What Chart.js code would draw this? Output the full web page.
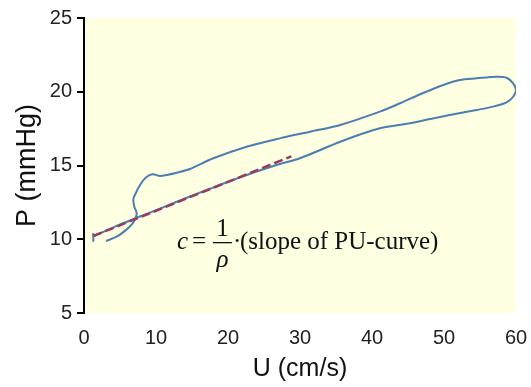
<!DOCTYPE html>
<html><head><meta charset="utf-8">
<script src="https://cdn.jsdelivr.net/npm/chart.js@4/dist/chart.umd.min.js"></script>
<style>html,body{margin:0;padding:0;background:#fff;}canvas{display:block}</style>
</head><body>
<canvas id="c" width="531" height="387"></canvas>
<script>
// Measured P-U loop (U in cm/s, P in mmHg)
const loopU = [3.06,4.54,5.93,6.76,7.08,7.32,6.99,6.85,7.18,7.78,8.47,9.17,9.63,10.56,11.49,12.88,14.72,17.96,22.6,27.2,31.4,35.6,41.1,43.9,46.7,49.9,52.2,54.5,57.3,58.7,59.6,60.0,59.6,58.7,56.8,54.5,50.8,48.1,45.3,41.1,35.6,30.0,27.2,22.6,18.9,14.72,10.56,7.78,4.31,1.29,1.29,1.29];
const loopP = [9.88,10.17,10.67,11.08,11.35,11.76,12.21,12.71,13.12,13.68,14.13,14.36,14.40,14.29,14.36,14.51,14.76,15.49,16.27,16.84,17.29,17.75,18.65,19.22,19.83,20.46,20.80,20.91,21.02,20.95,20.57,20.12,19.66,19.28,18.99,18.76,18.42,18.15,17.86,17.52,16.61,15.49,15.10,14.36,13.68,12.90,12.08,11.54,10.86,10.22,10.36,9.83];
// Linear fit (dashed)
const fitU = [1.29, 28.8];
const fitP = [10.22, 15.62];
// Axis ticks
const uTicks = [0,10,20,30,40,50,60];
const pTicks = [5,10,15,20,25];
// Annotation anchor (data coords)
const annoU = 12.9, annoP = 9.34;

const toXY = (xs, ys) => xs.map((v,i)=>({x:v, y:ys[i]}));

const bgPlugin = {
  id:'bg',
  beforeDraw(chart){
    const {ctx, chartArea:a} = chart;
    ctx.save();
    ctx.fillStyle = '#FFFFE1';
    ctx.fillRect(a.left, a.top, a.right-a.left, a.bottom-a.top);
    ctx.restore();
  }
};
const annoPlugin = {
  id:'anno',
  afterDatasetsDraw(chart){
    const {ctx, scales:{x,y}} = chart;
    const bx = x.getPixelForValue(annoU), by = y.getPixelForValue(annoP);
    const serif = '"Liberation Serif","Times New Roman",serif';
    ctx.save();
    ctx.fillStyle = '#111';
    ctx.textBaseline = 'alphabetic';
    ctx.textAlign = 'left';
    ctx.font = 'italic 25px ' + serif;
    ctx.fillText('c', bx, by);
    ctx.font = '25px ' + serif;
    ctx.fillText('=', bx+15, by);
    ctx.fillRect(bx+36, by-7, 19, 1.3);
    ctx.textAlign = 'center';
    ctx.fillText('1', bx+45.5, by-13);
    ctx.font = 'italic 25px ' + serif;
    ctx.fillText('ρ', bx+45.5, by+18);
    ctx.font = '25px ' + serif;
    ctx.textAlign = 'left';
    ctx.fillText('·', bx+56, by);
    ctx.fillText('(slope of PU-curve)', bx+63, by);
    ctx.restore();
  }
};

const sans = '"Liberation Sans", Arial, sans-serif';
new Chart(document.getElementById('c'), {
  type:'scatter',
  data:{datasets:[
    {label:'fit', data:toXY(fitU, fitP), showLine:true, borderColor:'#993a5f', borderWidth:2.5, borderDash:[9,4], pointRadius:0, tension:0},
    {label:'PU loop', data:toXY(loopU, loopP), showLine:true, borderColor:'#4a7eb0', borderWidth:2, pointRadius:0, tension:0.3}
  ]},
  options:{
    responsive:false, animation:false,
    layout:{padding:{left:0, right:15, top:18, bottom:0}},
    plugins:{legend:{display:false}, tooltip:{enabled:false}},
    scales:{
      x:{
        type:'linear', min:uTicks[0], max:uTicks[uTicks.length-1],
        afterBuildTicks: s => { s.ticks = uTicks.map(v=>({value:v})); },
        afterFit: s => { s.height = 74; s.paddingLeft = 0; s.paddingRight = 0; },
        grid:{display:false, drawTicks:false},
        border:{display:false},
        ticks:{padding:13, color:'#222', font:{family:sans, size:20}, maxRotation:0},
        title:{display:true, text:'U (cm/s)', color:'#111', font:{family:sans, size:25}, padding:{top:0, bottom:3}}
      },
      y:{
        type:'linear', min:pTicks[0], max:pTicks[pTicks.length-1],
        afterBuildTicks: s => { s.ticks = pTicks.map(v=>({value:v})); },
        afterFit: s => { s.width = 84; s.paddingTop = 0; s.paddingBottom = 0; },
        grid:{drawOnChartArea:false, drawTicks:true, tickLength:7, color:'#000', lineWidth:2},
        border:{display:true, color:'#000', width:2},
        ticks:{padding:5, color:'#222', font:{family:sans, size:20}},
        title:{display:true, text:'P (mmHg)', color:'#111', font:{family:sans, size:27}, padding:{top:11, bottom:0}}
      }
    }
  },
  plugins:[bgPlugin, annoPlugin]
});
</script>
</body></html>
